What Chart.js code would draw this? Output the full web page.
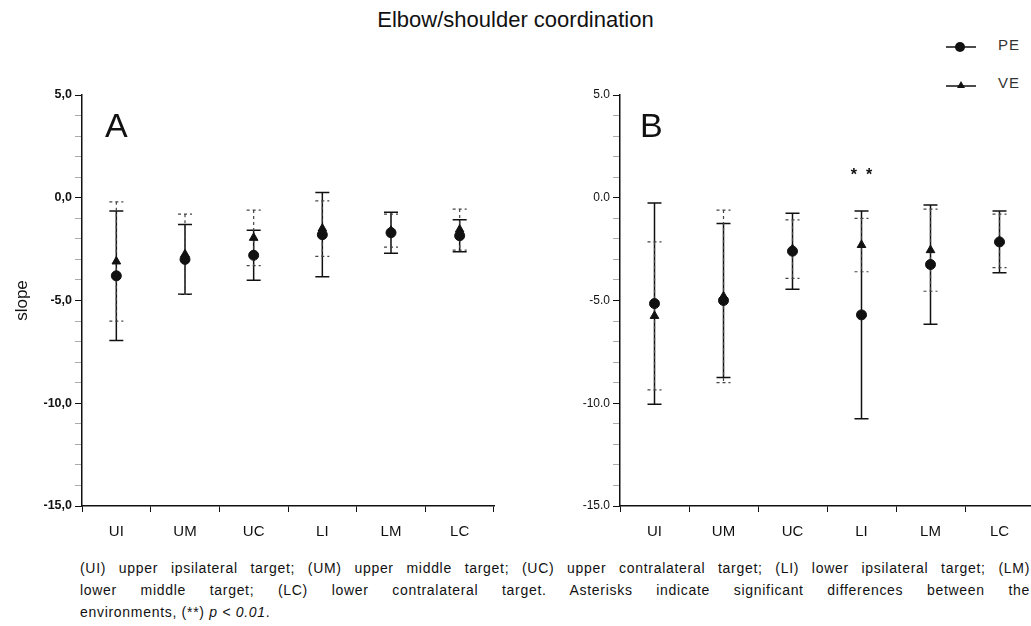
<!DOCTYPE html>
<html lang="en">
<head>
  <meta charset="UTF-8" />
  <title>Elbow/shoulder coordination</title>
  <script src="https://cdn.jsdelivr.net/npm/chart.js"></script>
  <style>
    html, body { margin: 0; padding: 0; background: #fff; overflow: hidden; }
    body { width: 1031px; height: 626px; position: relative; font-family: 'Liberation Sans', Arial, sans-serif; color: #111; }
    #title { position: absolute; left: 0; width: 1031px; top: 7px; text-align: center; font-size: 22px; }
    canvas { position: absolute; top: 80px; }
    #chartA { left: 0; }
    #chartB { left: 540px; }
    .panel { position: absolute; font-size: 34px; }
    #legend { position: absolute; left: 946px; top: 36px; font-size: 15px; color: #333; letter-spacing: 1px; }
    #legend div { height: 38px; display: flex; align-items: flex-start; }
    #legend svg { margin-right: 22px; }
    #caption { position: absolute; left: 80px; top: 557px; width: 950px; font-size: 14px; line-height: 22px; letter-spacing: 0.7px; }
    #caption .j { text-align: justify; text-align-last: justify; white-space: nowrap; }
  </style>
</head>
<body>
  <div id="title">Elbow/shoulder coordination</div>

  <div id="legend">
    <div><svg width="30" height="22"><line x1="0" y1="11" x2="30" y2="11" stroke="#111" stroke-width="1.5"/><circle cx="14" cy="11" r="5" fill="#111"/></svg>PE</div>
    <div><svg width="30" height="22"><line x1="0" y1="12" x2="30" y2="12" stroke="#111" stroke-width="1.5"/><polygon points="15,7 19,14 11,14" fill="#111"/></svg>VE</div>
  </div>

  <canvas id="chartA" width="500" height="456"></canvas>
  <canvas id="chartB" width="500" height="456"></canvas>

  <div class="panel" style="left:105px; top:106px;">A</div>
  <div class="panel" style="left:640px; top:106px;">B</div>

  <div id="caption">
    <div class="j">(UI) upper ipsilateral target; (UM) upper middle target; (UC) upper contralateral target; (LI) lower ipsilateral target; (LM)</div>
    <div class="j">lower middle target; (LC) lower contralateral target. Asterisks indicate significant differences between the</div>
    <div>environments, (**) <i>p &lt; 0.01</i>.</div>
  </div>

  <script>
    // targets
    const categories = ["UI", "UM", "UC", "LI", "LM", "LC"];
    const yTicks = [5, 0, -5, -10, -15];

    // panel A - means and error bar half-lengths
    const peMeanA = [-3.8, -3.0, -2.8, -1.8, -1.7, -1.85];
    const peErrA  = [3.15, 1.7, 1.22, 2.05, 1.0, 0.78];
    const veMeanA = [-3.1, -2.75, -1.95, -1.5, -1.6, -1.55];
    const veErrA  = [2.9, 1.95, 1.35, 1.35, 0.8, 1.0];

    // panel B
    const peMeanB = [-5.15, -5.0, -2.6, -5.7, -3.25, -2.15];
    const peErrB  = [4.9, 3.75, 1.85, 5.05, 2.9, 1.5];
    const veMeanB = [-5.75, -4.8, -2.5, -2.3, -2.55, -2.1];
    const veErrB  = [3.6, 4.2, 1.42, 1.3, 2.0, 1.3];

    // significant difference (**) in panel B
    const sigB = ["LI"];

    const errorBars = {
      id: "errorBars",
      beforeDatasetsDraw(chart) {
        const { ctx, scales: { x, y } } = chart;
        chart.data.datasets.forEach(ds => {
          ctx.save();
          ctx.strokeStyle = ds.barColor;
          ctx.lineWidth = ds.barWidth;
          ctx.setLineDash(ds.barDash);
          ds.data.forEach((v, j) => {
            const px = x.getPixelForValue(j);
            const top = y.getPixelForValue(v + ds.errors[j]);
            const bot = y.getPixelForValue(v - ds.errors[j]);
            ctx.beginPath();
            ctx.moveTo(px, top); ctx.lineTo(px, bot);
            ctx.moveTo(px - 7, top); ctx.lineTo(px + 7, top);
            ctx.moveTo(px - 7, bot); ctx.lineTo(px + 7, bot);
            ctx.stroke();
          });
          ctx.restore();
        });
      },
      afterDatasetsDraw(chart, args, opts) {
        if (!opts.sig) return;
        const { ctx, scales: { x, y } } = chart;
        ctx.save();
        ctx.fillStyle = "#111";
        ctx.font = "bold 16px 'Liberation Sans', Arial";
        ctx.textAlign = "center";
        opts.sig.forEach(cat => {
          const j = categories.indexOf(cat);
          let top = Math.max(...chart.data.datasets.map(ds => ds.data[j] + ds.errors[j]));
          ctx.fillText("*  *", x.getPixelForValue(j), y.getPixelForValue(top) - 31);
        });
        ctx.restore();
      }
    };

    function makeChart(id, peMean, peErr, veMean, veErr, opts) {
      return new Chart(document.getElementById(id), {
        type: "line",
        data: {
          labels: categories,
          datasets: [
            { label: "PE", data: peMean, errors: peErr, showLine: false,
              pointStyle: "circle", pointRadius: 5, pointHoverRadius: 5,
              backgroundColor: "#111", borderColor: "#111",
              barColor: "#111", barWidth: 1.5, barDash: [] },
            { label: "VE", data: veMean, errors: veErr, showLine: false,
              pointStyle: "triangle", pointRadius: 5, pointHoverRadius: 5,
              backgroundColor: "#111", borderColor: "#111",
              barColor: "#444", barWidth: 1.2, barDash: [3, 3] }
          ]
        },
        options: {
          responsive: false,
          animation: false,
          layout: { padding: { top: 15, right: opts.right, left: 0, bottom: 0 } },
          plugins: {
            legend: { display: false },
            tooltip: { enabled: false },
            errorBars: { sig: opts.sig }
          },
          scales: {
            x: {
              type: "category",
              offset: true,
              afterFit: s => { s.height = 30; },
              grid: { offset: true, drawOnChartArea: false, tickLength: 6, color: "#111" },
              border: { color: "#111", width: 1.5 },
              ticks: { color: "#111", padding: 11, font: { family: "'Liberation Sans', Arial", size: 15 } }
            },
            y: {
              min: -15, max: 5,
              afterFit: s => { s.width = opts.axisW; },
              afterBuildTicks: s => {
                const t = [];
                for (let v = -15; v <= 5; v++) t.push({ value: v });
                s.ticks = t;
              },
              grid: {
                drawOnChartArea: false, tickLength: 7,
                tickColor: c => yTicks.includes(c.tick.value) ? "#111" : "#aaa"
              },
              border: { color: "#111", width: 1.5 },
              title: opts.title ? {
                display: true, text: "slope", color: "#111",
                font: { family: "'Liberation Sans', Arial", size: 17 },
                padding: { top: 12, bottom: 0 }
              } : { display: false },
              ticks: {
                color: "#111", padding: 3, autoSkip: false,
                font: { family: "'Liberation Sans', Arial", size: opts.bold ? 12.5 : 12, weight: opts.bold ? "bold" : "normal" },
                callback: v => yTicks.includes(v) ? opts.fmt(v) : ""
              }
            }
          }
        },
        plugins: [errorBars]
      });
    }

    makeChart("chartA", peMeanA, peErrA, veMeanA, veErrA, {
      right: 4, axisW: 82, title: true, bold: true,
      fmt: v => v.toFixed(1).replace(".", ",")
    });
    makeChart("chartB", peMeanB, peErrB, veMeanB, veErrB, {
      right: 2, axisW: 80, title: false, bold: false, sig: sigB,
      fmt: v => v.toFixed(1)
    });
  </script>
</body>
</html>
